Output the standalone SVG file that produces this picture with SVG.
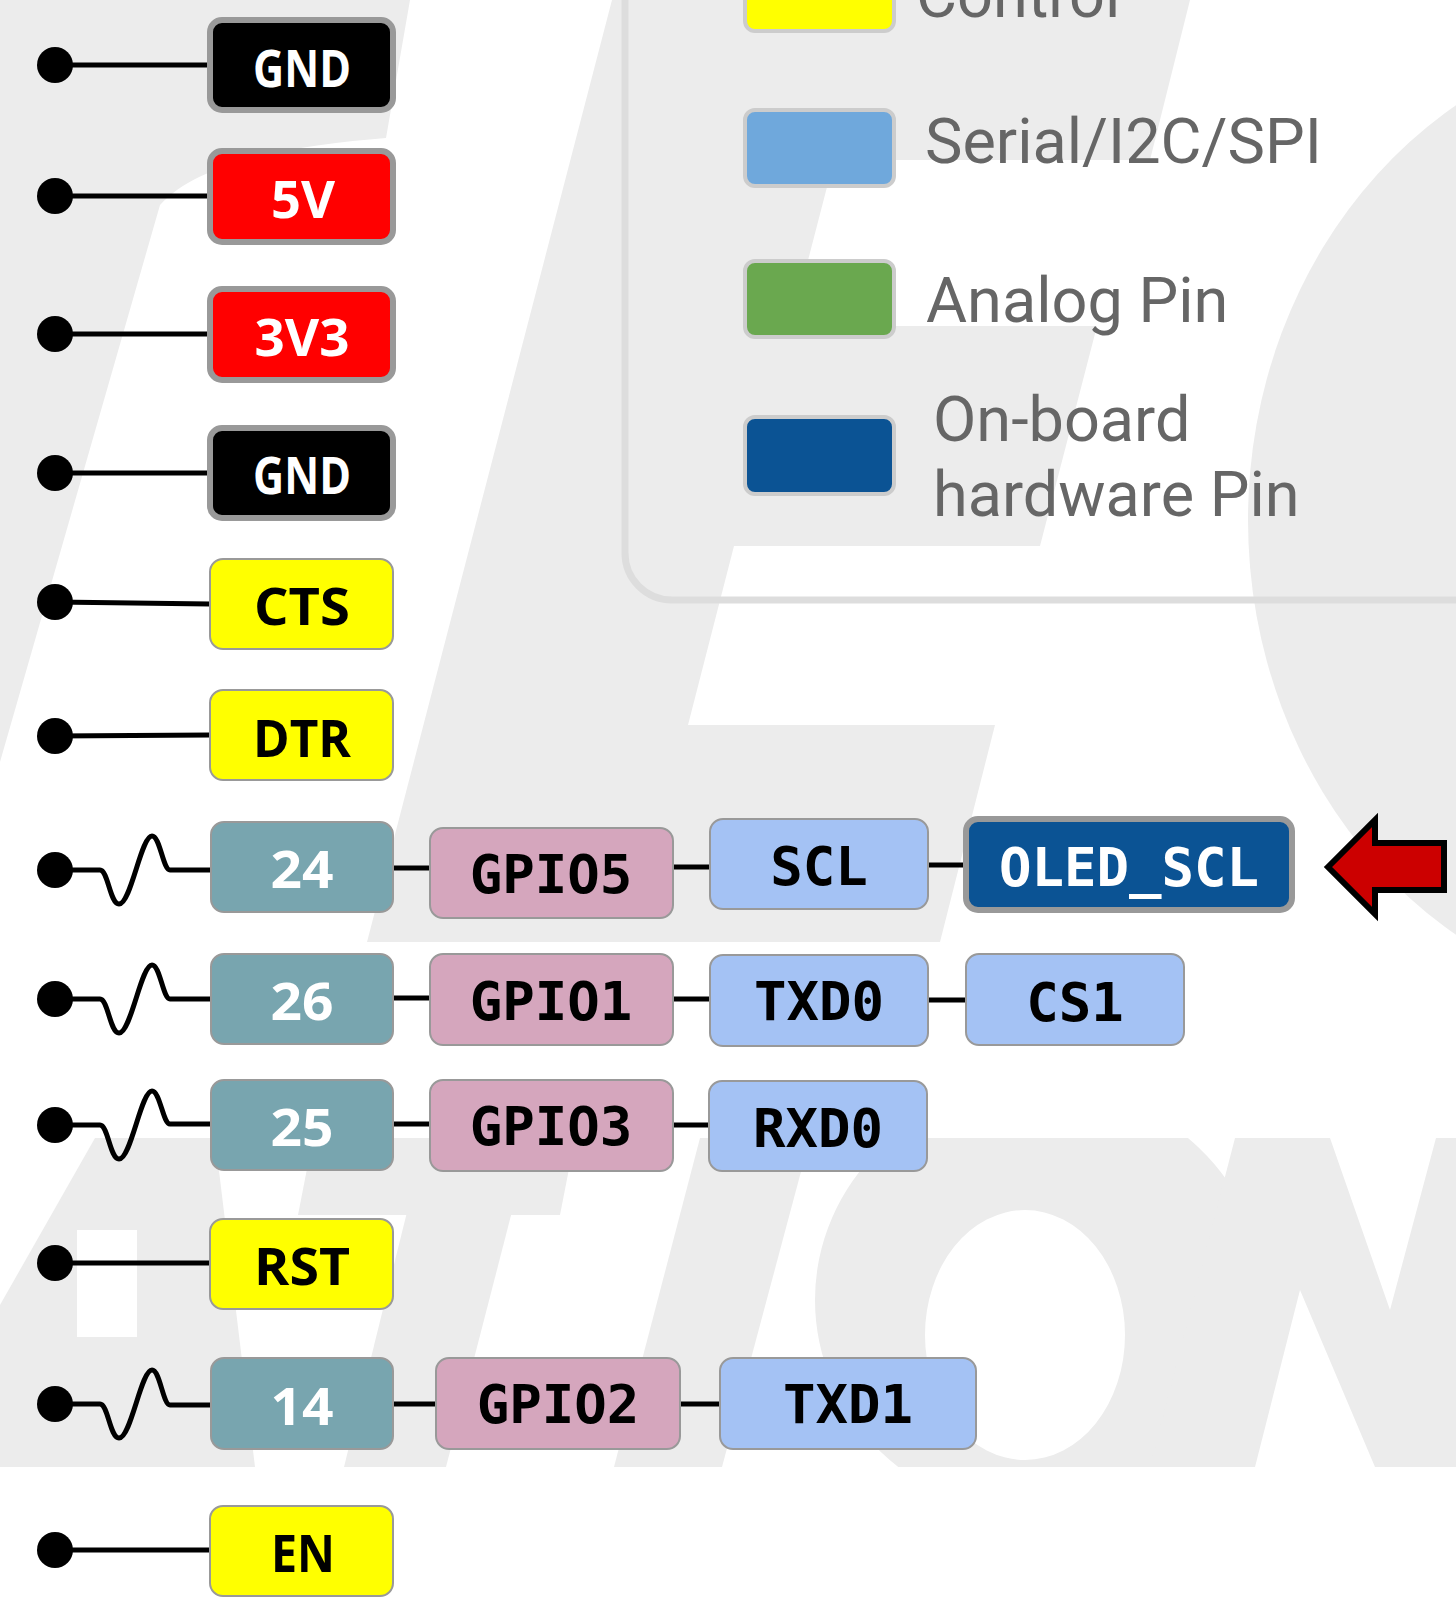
<svg xmlns="http://www.w3.org/2000/svg" width="1456" height="1601" viewBox="0 0 1456 1601">
<style>
.wm{fill:#ececec}
.pw{stroke:#999;stroke-width:6}
.bx{stroke:#999;stroke-width:2}
.wire{stroke:#000;stroke-width:5;fill:none}
.dot{fill:#000}
.lbl{font-family:"Open Sans","Noto Sans",sans-serif;font-weight:700;font-size:52px;text-anchor:middle}
.mono{font-family:"DejaVu Sans Mono",monospace;font-weight:700;font-size:54px;text-anchor:middle}
.leg{font-family:Roboto,sans-serif;font-size:63px;fill:#666}
.sw{stroke:#ccc;stroke-width:4}
.wt{fill:#fff}
.bk{fill:#000}
</style>
<defs>
<clipPath id="band"><rect x="0" y="1138" width="1456" height="329"/></clipPath>
</defs>
<rect width="1456" height="1601" fill="#fff"/>
<g id="watermark">
<path class="wm" d="M0,0 L410,0 L386,138 C300,145 200,160 160,205 L0,762 Z"/>
<path class="wm" d="M612,0 L1190,0 L1150,160 L834,160 L791,326 L1097,326 L1040,546 L734,546 L688,725 L995,725 L940,942 L367,942 Z"/>
<ellipse class="wm" cx="1690" cy="520" rx="442" ry="489"/>
<g clip-path="url(#band)">
<path class="wm" fill-rule="evenodd" d="M0,1305 L95,1138 L215,1138 L255,1467 L0,1467 Z M77,1230 H137 V1337 H77 Z"/>
<path class="wm" d="M313,1138 H575 L560,1215 H298 Z"/>
<path class="wm" d="M410,1200 L515,1200 L446,1467 L344,1467 Z"/>
<path class="wm" d="M700,1138 H810 L722,1467 H614 Z"/>
<path class="wm" fill-rule="evenodd" d="M815,1300 A225,215 0 1 0 1265,1300 A225,215 0 1 0 815,1300 Z M925,1335 A100,125 0 1 0 1125,1335 A100,125 0 1 0 925,1335 Z"/>
<path class="wm" d="M1150,1467 L1235,1138 H1330 L1390,1310 L1436,1138 H1456 V1467 H1375 L1300,1290 L1255,1467 Z"/>
</g>
</g>
<g id="legend">
<path d="M625,-10 V553 A47,47 0 0 0 672,600 H1470" fill="none" stroke="#ddd" stroke-width="7"/>
<g id="legend-control"><rect class="sw" x="745" y="-50" width="149" height="81" rx="10" fill="#ffff00"/><text class="leg" x="916" y="17">Control</text></g>
<g id="legend-serial"><rect class="sw" x="745" y="110" width="149" height="76" rx="10" fill="#6fa8dc"/><text class="leg" x="925" y="163">Serial/I2C/SPI</text></g>
<g id="legend-analog"><rect class="sw" x="745" y="261" width="149" height="76" rx="10" fill="#6aa84f"/><text class="leg" x="926" y="322">Analog Pin</text></g>
<g id="legend-onboard"><rect class="sw" x="745" y="417" width="149" height="77" rx="10" fill="#0b5394"/><text class="leg" x="933" y="441">On-board</text><text class="leg" x="933" y="516">hardware Pin</text></g>
</g>
<g id="connectors">
<circle class="dot" cx="55" cy="65" r="18"/><path class="wire" d="M55,65 H210"/>
<circle class="dot" cx="55" cy="196" r="18"/><path class="wire" d="M55,196 H210"/>
<circle class="dot" cx="55" cy="334" r="18"/><path class="wire" d="M55,334 H210"/>
<circle class="dot" cx="55" cy="473" r="18"/><path class="wire" d="M55,473 H210"/>
<circle class="dot" cx="55" cy="602" r="18"/><path class="wire" d="M55,602 L210,604"/>
<circle class="dot" cx="55" cy="736" r="18"/><path class="wire" d="M55,736 L210,735"/>
<circle class="dot" cx="55" cy="870" r="18"/><path class="wire" d="M55,870 H100 C108,870 110,904 119,904 C131,904 141,836 152,836 C160,836 163,870 170,870 H211"/>
<path class="wire" d="M393,868 H430"/><path class="wire" d="M673,867 H710"/><path class="wire" d="M928,865 H966"/>
<circle class="dot" cx="55" cy="999" r="18"/><path class="wire" d="M55,999 H100 C108,999 110,1033 119,1033 C131,1033 141,965 152,965 C160,965 163,999 170,999 H211"/>
<path class="wire" d="M393,998 H430"/><path class="wire" d="M673,999 H710"/><path class="wire" d="M928,1000 H966"/>
<circle class="dot" cx="55" cy="1125" r="18"/><path class="wire" d="M55,1125 H100 C108,1125 110,1159 119,1159 C131,1159 141,1091 152,1091 C160,1091 163,1124 170,1124 H211"/>
<path class="wire" d="M393,1124 H430"/><path class="wire" d="M673,1125 H709"/>
<circle class="dot" cx="55" cy="1263" r="18"/><path class="wire" d="M55,1263 H210"/>
<circle class="dot" cx="55" cy="1404" r="18"/><path class="wire" d="M55,1404 H100 C108,1404 110,1438 119,1438 C131,1438 141,1370 152,1370 C160,1370 163,1405 170,1405 H211"/>
<path class="wire" d="M393,1404 H436"/><path class="wire" d="M680,1404 H720"/>
<circle class="dot" cx="55" cy="1550" r="18"/><path class="wire" d="M55,1550 H210"/>
</g>
<g id="n-gnd1"><rect class="pw" x="210" y="20" width="183" height="90" rx="12" fill="#000"/><text class="lbl wt" x="302" y="87" textLength="98" lengthAdjust="spacingAndGlyphs">GND</text></g>
<g id="n-5v"><rect class="pw" x="210" y="151" width="183" height="91" rx="12" fill="#ff0000"/><text class="lbl wt" x="303" y="218" textLength="64" lengthAdjust="spacingAndGlyphs">5V</text></g>
<g id="n-3v3"><rect class="pw" x="210" y="289" width="183" height="91" rx="12" fill="#ff0000"/><text class="lbl wt" x="302" y="356" textLength="95" lengthAdjust="spacingAndGlyphs">3V3</text></g>
<g id="n-gnd2"><rect class="pw" x="210" y="428" width="183" height="90" rx="12" fill="#000"/><text class="lbl wt" x="302" y="494" textLength="98" lengthAdjust="spacingAndGlyphs">GND</text></g>
<g id="n-cts"><rect class="bx" x="210" y="559" width="183" height="90" rx="13" fill="#ffff00"/><text class="lbl bk" x="302" y="625" textLength="96" lengthAdjust="spacingAndGlyphs">CTS</text></g>
<g id="n-dtr"><rect class="bx" x="210" y="690" width="183" height="90" rx="13" fill="#ffff00"/><text class="lbl bk" x="302" y="757" textLength="98" lengthAdjust="spacingAndGlyphs">DTR</text></g>
<g id="n-24"><rect class="bx" x="211" y="822" width="182" height="90" rx="13" fill="#78a5af"/><text class="lbl wt" x="302" y="888" textLength="63" lengthAdjust="spacingAndGlyphs">24</text></g>
<g id="n-gpio5"><rect class="bx" x="430" y="828" width="243" height="90" rx="13" fill="#d5a6bd"/><text class="mono bk" x="551" y="893">GPIO5</text></g>
<g id="n-scl"><rect class="bx" x="710" y="819" width="218" height="90" rx="13" fill="#a4c2f4"/><text class="mono bk" x="819" y="885">SCL</text></g>
<g id="n-oled-scl"><rect class="pw" x="966" y="819" width="326" height="91" rx="12" fill="#0b5394"/><text class="mono wt" x="1129" y="886">OLED_SCL</text></g>
<g id="n-arrow"><path d="M1328,867 L1375,820 L1375,843 L1444,843 L1444,890 L1375,890 L1375,914 Z" fill="#cc0000" stroke="#000" stroke-width="6" stroke-linejoin="miter"/></g>
<g id="n-26"><rect class="bx" x="211" y="954" width="182" height="90" rx="13" fill="#78a5af"/><text class="lbl wt" x="302" y="1020" textLength="63" lengthAdjust="spacingAndGlyphs">26</text></g>
<g id="n-gpio1"><rect class="bx" x="430" y="954" width="243" height="91" rx="13" fill="#d5a6bd"/><text class="mono bk" x="551" y="1020">GPIO1</text></g>
<g id="n-txd0"><rect class="bx" x="710" y="955" width="218" height="91" rx="13" fill="#a4c2f4"/><text class="mono bk" x="819" y="1020">TXD0</text></g>
<g id="n-cs1"><rect class="bx" x="966" y="954" width="218" height="91" rx="13" fill="#a4c2f4"/><text class="mono bk" x="1075" y="1021">CS1</text></g>
<g id="n-25"><rect class="bx" x="211" y="1080" width="182" height="90" rx="13" fill="#78a5af"/><text class="lbl wt" x="302" y="1146" textLength="63" lengthAdjust="spacingAndGlyphs">25</text></g>
<g id="n-gpio3"><rect class="bx" x="430" y="1080" width="243" height="91" rx="13" fill="#d5a6bd"/><text class="mono bk" x="551" y="1145">GPIO3</text></g>
<g id="n-rxd0"><rect class="bx" x="709" y="1081" width="218" height="90" rx="13" fill="#a4c2f4"/><text class="mono bk" x="818" y="1147">RXD0</text></g>
<g id="n-rst"><rect class="bx" x="210" y="1219" width="183" height="90" rx="13" fill="#ffff00"/><text class="lbl bk" x="302" y="1285" textLength="96" lengthAdjust="spacingAndGlyphs">RST</text></g>
<g id="n-14"><rect class="bx" x="211" y="1358" width="182" height="91" rx="13" fill="#78a5af"/><text class="lbl wt" x="302" y="1425" textLength="63" lengthAdjust="spacingAndGlyphs">14</text></g>
<g id="n-gpio2"><rect class="bx" x="436" y="1358" width="244" height="91" rx="13" fill="#d5a6bd"/><text class="mono bk" x="558" y="1423">GPIO2</text></g>
<g id="n-txd1"><rect class="bx" x="720" y="1358" width="256" height="91" rx="13" fill="#a4c2f4"/><text class="mono bk" x="848" y="1423">TXD1</text></g>
<g id="n-en"><rect class="bx" x="210" y="1506" width="183" height="90" rx="13" fill="#ffff00"/><text class="lbl bk" x="303" y="1572" textLength="64" lengthAdjust="spacingAndGlyphs">EN</text></g>
</svg>
